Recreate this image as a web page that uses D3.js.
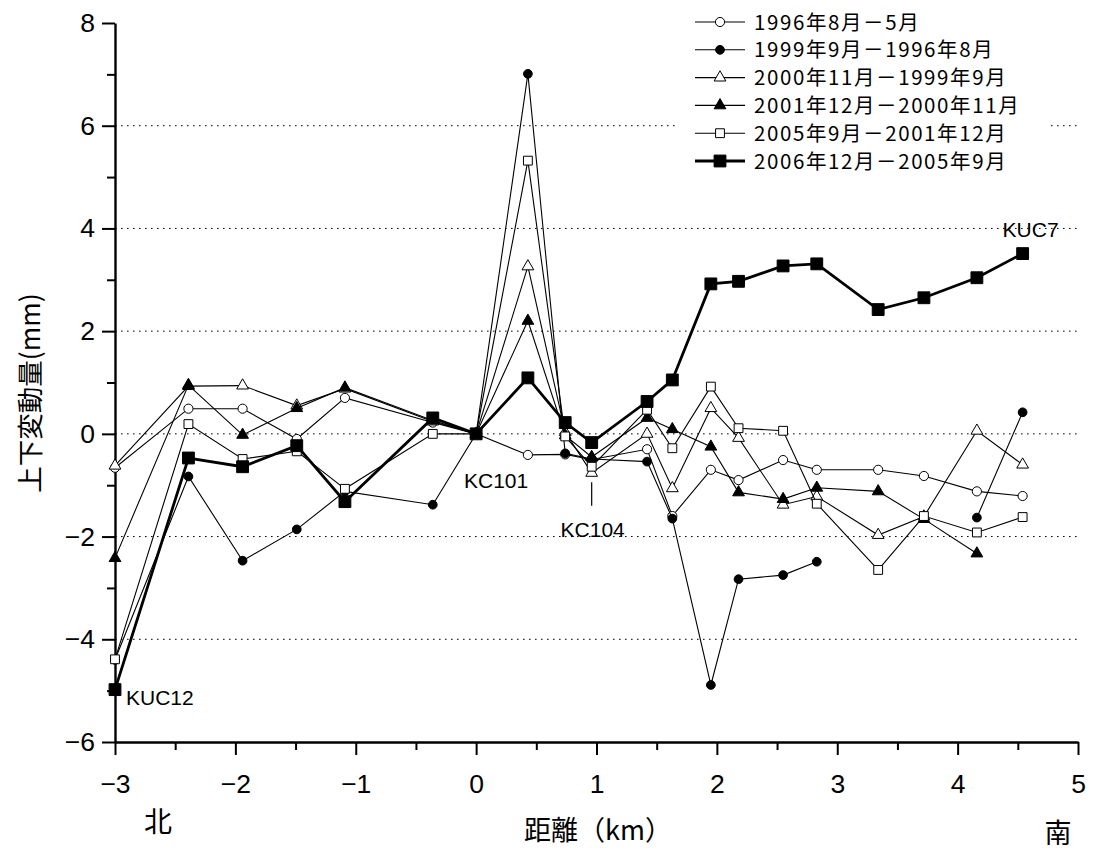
<!DOCTYPE html>
<html>
<head>
<meta charset="utf-8">
<script src="https://cdn.jsdelivr.net/npm/d3@7"></script>
<style>
  body { margin: 0; background: #fff; }
  text { font-family: "Liberation Sans", Arial, sans-serif; }
  .jp { font-family: "Noto Sans CJK JP", sans-serif; }
</style>
</head>
<body>
<svg width="1099" height="852"></svg>
<script>
'use strict';

// distance along the line (km)
var distKm = [-3.0, -2.39, -1.94, -1.49, -1.09, -0.36, 0, 0.43, 0.74, 0.96, 1.42, 1.63, 1.95, 2.18, 2.55, 2.83, 3.34, 3.72, 4.16, 4.54];

// vertical change (mm) for each period, null = no data
var s1996 = [-0.66, 0.49, 0.49, -0.10, 0.70, 0.22, 0, -0.41, -0.40, -0.50, -0.30, -1.60, -0.70, -0.90, -0.51, -0.70, -0.70, -0.82, -1.12, -1.21];
var s1999 = [-4.40, -0.83, -2.47, -1.86, -1.12, -1.38, 0, 7.01, -0.38, -0.49, -0.54, -1.65, -4.89, -2.83, -2.75, -2.49, null, null, -1.63, 0.42];
var s2000 = [-0.62, 0.93, 0.94, 0.55, 0.88, 0.24, 0, 3.26, 0.03, -0.76, 0.00, -1.06, 0.50, -0.08, -1.38, -1.22, -1.97, -1.61, 0.06, -0.60];
var s2001 = [-2.42, 0.95, -0.02, 0.50, 0.90, 0.26, 0, 2.20, -0.03, -0.45, 0.31, 0.09, -0.25, -1.14, -1.27, -1.05, -1.12, -1.66, -2.33, null];
var s2005 = [-4.39, 0.19, -0.49, -0.34, -1.07, 0.00, 0, 5.32, -0.05, -0.64, 0.47, -0.28, 0.92, 0.11, 0.06, -1.36, -2.65, -1.60, -1.92, -1.62];
var s2006 = [-4.98, -0.47, -0.64, -0.23, -1.32, 0.31, 0, 1.09, 0.22, -0.17, 0.63, 1.05, 2.92, 2.97, 3.27, 3.31, 2.42, 2.65, 3.04, 3.51];

var seriesNames = ['1996年8月－5月', '1999年9月－1996年8月', '2000年11月－1999年9月',
                   '2001年12月－2000年11月', '2005年9月－2001年12月', '2006年12月－2005年9月'];
var seriesValues = [s1996, s1999, s2000, s2001, s2005, s2006];

var xMajor = [-3, -2, -1, 0, 1, 2, 3, 4, 5];
var xMinor = [-2.5, -1.5, -0.5, 0.5, 1.5, 2.5, 3.5, 4.5];
var yMajor = [-6, -4, -2, 0, 2, 4, 6, 8];
var yMinor = [-5, -3, -1, 1, 3, 5, 7];
var gridVals = [-4, -2, 0, 2, 4, 6];

// station names and where they sit (km)
var stationLabels = [
  {name: 'KUC12', km: -3.0},
  {name: 'KC101', km: 0},
  {name: 'KC104', km: 0.96},
  {name: 'KUC7', km: 4.54}
];

// marker styles per series
var markerType = [d3.symbolCircle, d3.symbolCircle, d3.symbolTriangle, d3.symbolTriangle, d3.symbolSquare, d3.symbolSquare];
var markerSize = [66, 60, 60, 60, 78, 140];
var markerFill = ['#fff', '#000', '#fff', '#000', '#fff', '#000'];
var lineWidth = [1.1, 1.1, 1.1, 1.1, 1.1, 2.8];

var svg = d3.select('svg');

var x = d3.scaleLinear().domain([-3, 5]).range([115, 1078]);
var y = d3.scaleLinear().domain([-6, 8]).range([742, 23]);

// gridlines
svg.append('g').selectAll('line').data(gridVals).enter().append('line')
  .attr('x1', x(-3)).attr('x2', x(5))
  .attr('y1', function(d){ return y(d); })
  .attr('y2', function(d){ return y(d); })
  .attr('stroke', '#000').attr('stroke-width', 1)
  .attr('stroke-dasharray', '1.6,4.4');

// minor ticks
svg.append('g').attr('transform', 'translate(0,' + y(-6) + ')')
  .call(d3.axisBottom(x).tickValues(xMinor).tickSize(8).tickFormat(''))
  .call(function(g){ g.select('.domain').remove(); })
  .selectAll('line').attr('stroke-width', 2);
svg.append('g').attr('transform', 'translate(' + x(-3) + ',0)')
  .call(d3.axisLeft(y).tickValues(yMinor).tickSize(8).tickFormat(''))
  .call(function(g){ g.select('.domain').remove(); })
  .selectAll('line').attr('stroke-width', 2);

// major axes
var xAxis = svg.append('g').attr('transform', 'translate(0,' + y(-6) + ')')
  .call(d3.axisBottom(x).tickValues(xMajor).tickSize(13).tickSizeOuter(0).tickPadding(19).tickFormat(d3.format('d')));
var yAxis = svg.append('g').attr('transform', 'translate(' + x(-3) + ',0)')
  .call(d3.axisLeft(y).tickValues(yMajor).tickSize(13).tickSizeOuter(0).tickPadding(7).tickFormat(d3.format('d')));
[xAxis, yAxis].forEach(function(g){
  g.select('.domain').attr('stroke-width', 2.4);
  g.selectAll('line').attr('stroke-width', 2);
  g.selectAll('text').attr('font-size', 26.5).attr('fill', '#000')
    .style('font-family', '"Liberation Sans", Arial, sans-serif');
});

// series
var line = d3.line()
  .defined(function(d){ return d.v != null; })
  .x(function(d){ return x(d.km); })
  .y(function(d){ return y(d.v); });

seriesValues.forEach(function(vals, i){
  var pts = distKm.map(function(km, j){ return {km: km, v: vals[j]}; });
  var g = svg.append('g');
  g.append('path').datum(pts)
    .attr('d', line)
    .attr('fill', 'none').attr('stroke', '#000')
    .attr('stroke-width', lineWidth[i]).attr('stroke-linejoin', 'miter');
  g.selectAll('path.m').data(pts.filter(function(d){ return d.v != null; })).enter()
    .append('path').attr('class', 'm')
    .attr('transform', function(d){ return 'translate(' + x(d.km) + ',' + y(d.v) + ')'; })
    .attr('d', d3.symbol().type(markerType[i]).size(markerSize[i]))
    .attr('fill', markerFill[i]).attr('stroke', '#000').attr('stroke-width', 1);
});

// legend
var lg = svg.append('g');
lg.append('rect').attr('x', 677).attr('y', 0).attr('width', 372).attr('height', 176).attr('fill', '#fff');
seriesNames.forEach(function(name, i){
  var ry = 22 + i * 27.8;
  lg.append('line').attr('x1', 695).attr('x2', 745).attr('y1', ry).attr('y2', ry)
    .attr('stroke', '#000').attr('stroke-width', lineWidth[i]);
  lg.append('path').attr('transform', 'translate(720,' + ry + ')')
    .attr('d', d3.symbol().type(markerType[i]).size(markerSize[i]))
    .attr('fill', markerFill[i]).attr('stroke', '#000').attr('stroke-width', 1);
  lg.append('text').attr('class', 'jp').attr('x', 754).attr('y', ry + 7.5)
    .attr('font-size', 20.5).attr('letter-spacing', 1.6).text(name);
});

// station labels
svg.append('text').attr('x', x(-3) + 11).attr('y', y(-5) + 14).attr('font-size', 21).text(stationLabels[0].name);
svg.append('text').attr('x', x(0) + 20).attr('y', y(-0.85) + 10).attr('text-anchor', 'middle').attr('font-size', 21).text(stationLabels[1].name);
svg.append('line').attr('x1', x(stationLabels[2].km)).attr('x2', x(stationLabels[2].km))
  .attr('y1', y(-0.94)).attr('y2', y(-1.4)).attr('stroke', '#000').attr('stroke-width', 1.2);
svg.append('text').attr('x', x(stationLabels[2].km) + 1).attr('y', y(-1.82) + 10).attr('text-anchor', 'middle').attr('font-size', 21).text(stationLabels[2].name);
svg.append('text').attr('x', x(stationLabels[3].km) + 8).attr('y', y(4) + 9).attr('text-anchor', 'middle').attr('font-size', 21).text(stationLabels[3].name);

// axis titles
svg.append('text').attr('class', 'jp')
  .attr('transform', 'translate(40,393) rotate(-90)')
  .attr('text-anchor', 'middle').attr('font-size', 26.5).text('上下変動量(mm)');
svg.append('text').attr('class', 'jp').attr('x', 598).attr('y', 840)
  .attr('text-anchor', 'middle').attr('font-size', 27).text('距離（km）');
svg.append('text').attr('class', 'jp').attr('x', 158).attr('y', 832)
  .attr('text-anchor', 'middle').attr('font-size', 28).text('北');
svg.append('text').attr('class', 'jp').attr('x', 1058).attr('y', 843)
  .attr('text-anchor', 'middle').attr('font-size', 27).text('南');
</script>
</body>
</html>
